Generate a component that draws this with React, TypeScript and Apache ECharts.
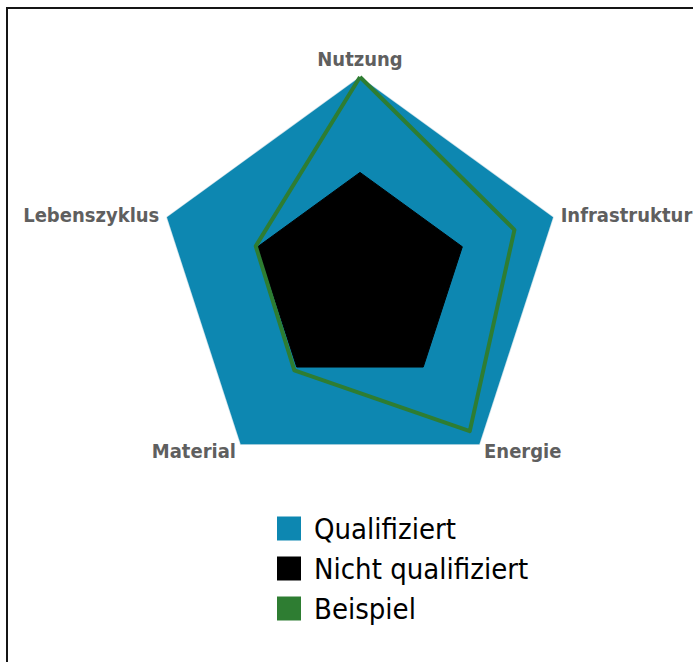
import React, { useEffect, useRef } from "react";
import * as echarts from "echarts";

const indicatorNames = ["Nutzung", "Lebenszyklus", "Material", "Energie", "Infrastruktur"];
const maxValue = 100;
const qualifiziert = [100, 100, 100, 100, 100];
const nichtQualifiziert = [53, 53, 53, 53, 53];
const beispiel = [100, 54, 55, 92, 80];
const seriesNames = ["Qualifiziert", "Nicht qualifiziert", "Beispiel"];

const FONT = "'DejaVu Sans Condensed', 'Liberation Sans Narrow', 'DejaVu Sans', sans-serif";

export default function App() {
  const ref = useRef<HTMLDivElement>(null);
  useEffect(() => {
    if (!ref.current) return;
    const chart = echarts.init(ref.current, undefined, { renderer: "svg" });
    chart.setOption({
      animation: false,
      legend: {
        orient: "vertical",
        left: 272,
        top: 509,
        itemWidth: 24,
        itemHeight: 24,
        itemGap: 11,
        icon: "rect",
        data: seriesNames,
        textStyle: { fontFamily: FONT, fontSize: 29, lineHeight: 26, color: "#000000", padding: [0, 0, 0, 8] },
      },
      radar: {
        center: [360, 280],
        radius: 203,
        startAngle: 90,
        shape: "polygon",
        splitNumber: 1,
        indicator: indicatorNames.map((n) => ({ name: n, max: maxValue, min: 0 })),
        axisName: {
          color: "#5f5f5f",
          fontFamily: FONT,
          fontWeight: "bold",
          fontSize: 20,
        },
        nameGap: 8,
        axisLine: { show: false },
        splitLine: { show: false },
        splitArea: { show: false },
        axisTick: { show: false },
        axisLabel: { show: false },
      },
      series: [
        {
          type: "radar",
          symbol: "none",
          data: [
            {
              name: seriesNames[0],
              value: qualifiziert,
              itemStyle: { color: "#0d87b1" },
              lineStyle: { color: "#cfe2ea", width: 1.5 },
              areaStyle: { color: "#0d87b1", opacity: 1 },
            },
            {
              name: seriesNames[1],
              value: nichtQualifiziert,
              itemStyle: { color: "#000000" },
              lineStyle: { color: "#000000", width: 1 },
              areaStyle: { color: "#000000", opacity: 1 },
            },
            {
              name: seriesNames[2],
              value: beispiel,
              itemStyle: { color: "#2e7d32" },
              lineStyle: { color: "#2e7d32", width: 4 },
            },
          ],
        },
      ],
    });
    return () => chart.dispose();
  }, []);
  return (
    <div style={{ position: "fixed", left: 0, top: 0, width: 693, height: 662, background: "#fff", overflow: "hidden" }}>
      <div
        style={{
          position: "absolute",
          left: 6,
          top: 7,
          width: 700,
          height: 700,
          borderLeft: "2.5px solid #151515",
          borderTop: "2.5px solid #151515",
          boxSizing: "border-box",
        }}
      />
      <div ref={ref} style={{ position: "absolute", left: 0, top: 0, width: 693, height: 662 }} />
    </div>
  );
}
